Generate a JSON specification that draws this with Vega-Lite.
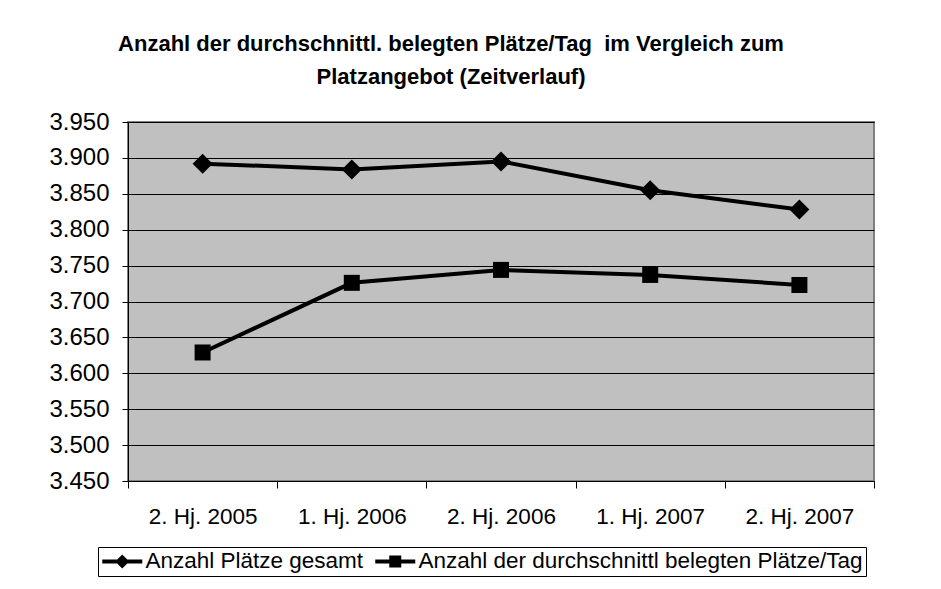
{
  "$schema": "https://vega.github.io/schema/vega-lite/v6.json",
  "width": 746,
  "height": 359,
  "autosize": {"type": "none"},
  "padding": {"left": 128, "top": 122, "right": 67, "bottom": 108},
  "background": "white",
  "config": {
    "locale": {"number": {"decimal": ",", "thousands": ".", "grouping": [3], "currency": ["", " €"]}},
    "view": {"fill": "#C0C0C0", "stroke": "#808080", "strokeWidth": 2},
    "font": "Liberation Sans"
  },
  "title": {
    "text": ["Anzahl der durchschnittl. belegten Plätze/Tag\u00a0 im Vergleich zum", "Platzangebot (Zeitverlauf)"],
    "fontSize": 22,
    "fontWeight": "bold",
    "font": "Liberation Sans",
    "color": "black",
    "anchor": "middle",
    "offset": 21,
    "dx": -50,
    "lineHeight": 33
  },
  "data": {
    "values": [
      {"period": "2. Hj. 2005", "series": "Anzahl Plätze gesamt", "value": 3892},
      {"period": "1. Hj. 2006", "series": "Anzahl Plätze gesamt", "value": 3884},
      {"period": "2. Hj. 2006", "series": "Anzahl Plätze gesamt", "value": 3895},
      {"period": "1. Hj. 2007", "series": "Anzahl Plätze gesamt", "value": 3855},
      {"period": "2. Hj. 2007", "series": "Anzahl Plätze gesamt", "value": 3828},
      {"period": "2. Hj. 2005", "series": "Anzahl der durchschnittl belegten Plätze/Tag", "value": 3629},
      {"period": "1. Hj. 2006", "series": "Anzahl der durchschnittl belegten Plätze/Tag", "value": 3726},
      {"period": "2. Hj. 2006", "series": "Anzahl der durchschnittl belegten Plätze/Tag", "value": 3744},
      {"period": "1. Hj. 2007", "series": "Anzahl der durchschnittl belegten Plätze/Tag", "value": 3737},
      {"period": "2. Hj. 2007", "series": "Anzahl der durchschnittl belegten Plätze/Tag", "value": 3723}
    ]
  },
  "encoding": {
    "x": {
      "field": "period",
      "type": "ordinal",
      "sort": ["2. Hj. 2005", "1. Hj. 2006", "2. Hj. 2006", "1. Hj. 2007", "2. Hj. 2007"],
      "bandPosition": 0.5,
      "scale": {"type": "band", "paddingInner": 0, "paddingOuter": 0},
      "axis": {
        "title": null,
        "labelAngle": 0,
        "labelFontSize": 22.5,
        "labelColor": "black",
        "labelPadding": 17,
        "tickBand": "extent",
        "tickColor": "black",
        "tickSize": 7,
        "domainColor": "black",
        "domainWidth": 1,
        "grid": false
      }
    },
    "y": {
      "field": "value",
      "type": "quantitative",
      "scale": {"domain": [3450, 3950], "zero": false, "nice": false},
      "axis": {
        "title": null,
        "values": [3450, 3500, 3550, 3600, 3650, 3700, 3750, 3800, 3850, 3900, 3950],
        "format": ",.0f",
        "labelFontSize": 24,
        "labelColor": "black",
        "labelPadding": 13,
        "tickColor": "black",
        "tickSize": 6,
        "domainColor": "black",
        "grid": true,
        "gridColor": "black",
        "gridWidth": 1
      }
    }
  },
  "layer": [
    {
      "mark": {"type": "line", "color": "black", "strokeWidth": 4},
      "encoding": {"detail": {"field": "series"}}
    },
    {
      "mark": {"type": "point", "filled": true, "color": "black", "opacity": 1},
      "encoding": {
        "shape": {
          "field": "series",
          "scale": {"domain": ["Anzahl Plätze gesamt", "Anzahl der durchschnittl belegten Plätze/Tag"], "range": ["diamond", "square"]},
          "legend": null
        },
        "size": {
          "field": "series",
          "scale": {"domain": ["Anzahl Plätze gesamt", "Anzahl der durchschnittl belegten Plätze/Tag"], "range": [400, 256]},
          "legend": null
        }
      }
    },
    {
      "mark": {"type": "point", "filled": true, "color": "black", "opacity": 0},
      "encoding": {
        "shape": {
          "field": "series",
          "scale": {
            "domain": ["Anzahl Plätze gesamt", "Anzahl der durchschnittl belegten Plätze/Tag"],
            "range": [
              "M-1,-0.2L3,-0.2L3,0.2L-1,0.2ZM0.3,0L1,-0.7L1.7,0L1,0.7Z",
              "M-1,-0.2L3,-0.2L3,0.2L-1,0.2ZM0.4,-0.6L1.6,-0.6L1.6,0.6L0.4,0.6Z"
            ]
          },
          "legend": {
            "title": null,
            "orient": "none",
            "legendX": -30,
            "legendY": 425,
            "direction": "horizontal",
            "strokeColor": "black",
            "fillColor": "white",
            "padding": 3,
            "labelFontSize": 22.5,
            "labelColor": "black",
            "labelLimit": 700,
            "labelOffset": 22,
            "columnPadding": 10,
            "symbolSize": 400,
            "symbolOpacity": 1,
            "symbolStrokeWidth": 0,
            "symbolFillColor": "black"
          }
        }
      }
    }
  ],
  "resolve": {"scale": {"shape": "independent", "size": "independent"}}
}
